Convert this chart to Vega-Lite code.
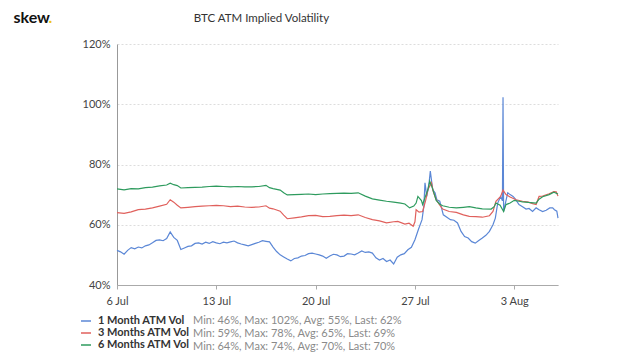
{
"$schema": "https://vega.github.io/schema/vega-lite/v6.json",
"width": 441,
"height": 241,
"autosize": "none",
"padding": {"left": 117, "top": 44, "right": 82, "bottom": 72},
"background": "white",
"config": {"font": "Lato", "view": {"stroke": null}},
"title": {"text": "BTC ATM Implied Volatility", "font": "Lato", "fontSize": 11.5, "fontWeight": "normal", "color": "#333333", "anchor": "middle", "frame": "group", "dx": -76, "offset": -15},
"data": {"values": [
{"d":"2020-07-06T00:00","s":"1M","v":51.5},{"d":"2020-07-06T06:00","s":"1M","v":51.0},{"d":"2020-07-06T12:00","s":"1M","v":50.2},{"d":"2020-07-06T18:00","s":"1M","v":51.5},
{"d":"2020-07-07T00:00","s":"1M","v":52.4},{"d":"2020-07-07T06:00","s":"1M","v":52.0},{"d":"2020-07-07T12:00","s":"1M","v":52.6},{"d":"2020-07-07T18:00","s":"1M","v":52.3},
{"d":"2020-07-08T00:00","s":"1M","v":53.0},{"d":"2020-07-08T06:00","s":"1M","v":53.3},{"d":"2020-07-08T12:00","s":"1M","v":54.0},{"d":"2020-07-08T18:00","s":"1M","v":54.8},
{"d":"2020-07-09T00:00","s":"1M","v":55.0},{"d":"2020-07-09T06:00","s":"1M","v":54.7},{"d":"2020-07-09T12:00","s":"1M","v":55.4},{"d":"2020-07-09T18:00","s":"1M","v":57.6},
{"d":"2020-07-10T00:00","s":"1M","v":55.8},{"d":"2020-07-10T06:00","s":"1M","v":54.8},{"d":"2020-07-10T12:00","s":"1M","v":51.8},{"d":"2020-07-10T18:00","s":"1M","v":52.3},
{"d":"2020-07-11T00:00","s":"1M","v":52.8},{"d":"2020-07-11T06:00","s":"1M","v":53.0},{"d":"2020-07-11T12:00","s":"1M","v":53.8},{"d":"2020-07-11T18:00","s":"1M","v":54.0},
{"d":"2020-07-12T00:00","s":"1M","v":53.6},{"d":"2020-07-12T06:00","s":"1M","v":54.2},{"d":"2020-07-12T12:00","s":"1M","v":53.8},{"d":"2020-07-12T18:00","s":"1M","v":54.4},
{"d":"2020-07-13T00:00","s":"1M","v":54.0},{"d":"2020-07-13T06:00","s":"1M","v":53.7},{"d":"2020-07-13T12:00","s":"1M","v":54.2},{"d":"2020-07-13T18:00","s":"1M","v":54.0},
{"d":"2020-07-14T00:00","s":"1M","v":54.3},{"d":"2020-07-14T06:00","s":"1M","v":54.6},{"d":"2020-07-14T12:00","s":"1M","v":54.0},{"d":"2020-07-14T18:00","s":"1M","v":53.6},
{"d":"2020-07-15T00:00","s":"1M","v":53.3},{"d":"2020-07-15T06:00","s":"1M","v":53.0},{"d":"2020-07-15T12:00","s":"1M","v":53.4},{"d":"2020-07-15T18:00","s":"1M","v":53.8},
{"d":"2020-07-16T00:00","s":"1M","v":54.2},{"d":"2020-07-16T06:00","s":"1M","v":54.7},{"d":"2020-07-16T12:00","s":"1M","v":54.5},{"d":"2020-07-16T18:00","s":"1M","v":54.3},
{"d":"2020-07-17T00:00","s":"1M","v":52.6},{"d":"2020-07-17T06:00","s":"1M","v":51.1},{"d":"2020-07-17T12:00","s":"1M","v":50.0},{"d":"2020-07-17T18:00","s":"1M","v":49.3},
{"d":"2020-07-18T00:00","s":"1M","v":48.6},{"d":"2020-07-18T06:00","s":"1M","v":48.0},{"d":"2020-07-18T12:00","s":"1M","v":48.8},{"d":"2020-07-18T18:00","s":"1M","v":49.0},
{"d":"2020-07-19T00:00","s":"1M","v":49.6},{"d":"2020-07-19T06:00","s":"1M","v":49.8},{"d":"2020-07-19T12:00","s":"1M","v":50.4},{"d":"2020-07-19T18:00","s":"1M","v":50.6},
{"d":"2020-07-20T00:00","s":"1M","v":50.3},{"d":"2020-07-20T06:00","s":"1M","v":50.0},{"d":"2020-07-20T12:00","s":"1M","v":49.6},{"d":"2020-07-20T18:00","s":"1M","v":48.9},
{"d":"2020-07-21T00:00","s":"1M","v":49.6},{"d":"2020-07-21T06:00","s":"1M","v":50.2},{"d":"2020-07-21T12:00","s":"1M","v":50.0},{"d":"2020-07-21T18:00","s":"1M","v":49.4},
{"d":"2020-07-22T00:00","s":"1M","v":49.6},{"d":"2020-07-22T06:00","s":"1M","v":50.4},{"d":"2020-07-22T12:00","s":"1M","v":50.3},{"d":"2020-07-22T18:00","s":"1M","v":50.0},
{"d":"2020-07-23T00:00","s":"1M","v":50.6},{"d":"2020-07-23T06:00","s":"1M","v":51.3},{"d":"2020-07-23T12:00","s":"1M","v":50.8},{"d":"2020-07-23T18:00","s":"1M","v":51.0},
{"d":"2020-07-24T00:00","s":"1M","v":50.6},{"d":"2020-07-24T06:00","s":"1M","v":49.0},{"d":"2020-07-24T12:00","s":"1M","v":48.3},{"d":"2020-07-24T18:00","s":"1M","v":48.8},
{"d":"2020-07-25T00:00","s":"1M","v":47.8},{"d":"2020-07-25T06:00","s":"1M","v":48.3},{"d":"2020-07-25T12:00","s":"1M","v":47.0},{"d":"2020-07-25T18:00","s":"1M","v":49.2},
{"d":"2020-07-26T00:00","s":"1M","v":50.0},{"d":"2020-07-26T06:00","s":"1M","v":50.4},{"d":"2020-07-26T12:00","s":"1M","v":51.7},{"d":"2020-07-26T18:00","s":"1M","v":52.5},
{"d":"2020-07-27T00:00","s":"1M","v":55.0},{"d":"2020-07-27T06:00","s":"1M","v":58.5},{"d":"2020-07-27T12:00","s":"1M","v":61.7},{"d":"2020-07-27T15:00","s":"1M","v":66.0},
{"d":"2020-07-27T17:00","s":"1M","v":73.9},{"d":"2020-07-27T20:00","s":"1M","v":69.4},{"d":"2020-07-28T00:00","s":"1M","v":74.0},{"d":"2020-07-28T02:00","s":"1M","v":77.8},
{"d":"2020-07-28T06:00","s":"1M","v":71.7},{"d":"2020-07-28T10:00","s":"1M","v":70.6},{"d":"2020-07-28T13:00","s":"1M","v":68.3},{"d":"2020-07-28T18:00","s":"1M","v":67.8},
{"d":"2020-07-29T00:00","s":"1M","v":63.3},{"d":"2020-07-29T06:00","s":"1M","v":62.5},{"d":"2020-07-29T12:00","s":"1M","v":61.7},{"d":"2020-07-29T18:00","s":"1M","v":61.5},
{"d":"2020-07-30T00:00","s":"1M","v":60.6},{"d":"2020-07-30T06:00","s":"1M","v":57.8},{"d":"2020-07-30T12:00","s":"1M","v":56.1},{"d":"2020-07-30T18:00","s":"1M","v":55.6},
{"d":"2020-07-31T00:00","s":"1M","v":54.4},{"d":"2020-07-31T06:00","s":"1M","v":53.9},{"d":"2020-07-31T12:00","s":"1M","v":54.8},{"d":"2020-07-31T18:00","s":"1M","v":55.6},
{"d":"2020-08-01T00:00","s":"1M","v":56.5},{"d":"2020-08-01T06:00","s":"1M","v":57.8},{"d":"2020-08-01T12:00","s":"1M","v":60.0},{"d":"2020-08-01T16:00","s":"1M","v":62.2},
{"d":"2020-08-01T20:00","s":"1M","v":67.2},{"d":"2020-08-02T01:00","s":"1M","v":69.4},{"d":"2020-08-02T04:00","s":"1M","v":68.0},{"d":"2020-08-02T05:00","s":"1M","v":102.3},
{"d":"2020-08-02T06:00","s":"1M","v":64.4},{"d":"2020-08-02T10:00","s":"1M","v":68.0},{"d":"2020-08-02T13:00","s":"1M","v":70.6},{"d":"2020-08-02T17:00","s":"1M","v":70.0},
{"d":"2020-08-02T22:00","s":"1M","v":69.4},{"d":"2020-08-03T02:00","s":"1M","v":68.5},{"d":"2020-08-03T08:00","s":"1M","v":66.7},{"d":"2020-08-03T14:00","s":"1M","v":66.0},
{"d":"2020-08-03T20:00","s":"1M","v":65.2},{"d":"2020-08-04T01:00","s":"1M","v":65.4},{"d":"2020-08-04T07:00","s":"1M","v":64.4},{"d":"2020-08-04T13:00","s":"1M","v":65.6},
{"d":"2020-08-04T18:00","s":"1M","v":65.0},{"d":"2020-08-05T00:00","s":"1M","v":64.4},{"d":"2020-08-05T06:00","s":"1M","v":64.8},{"d":"2020-08-05T12:00","s":"1M","v":65.6},
{"d":"2020-08-05T17:00","s":"1M","v":65.6},{"d":"2020-08-05T20:00","s":"1M","v":65.0},{"d":"2020-08-06T00:00","s":"1M","v":64.5},{"d":"2020-08-06T02:00","s":"1M","v":62.2},
{"d":"2020-07-06T00:00","s":"3M","v":64.0},{"d":"2020-07-06T12:00","s":"3M","v":63.8},{"d":"2020-07-07T00:00","s":"3M","v":64.3},{"d":"2020-07-07T12:00","s":"3M","v":65.0},
{"d":"2020-07-08T00:00","s":"3M","v":65.2},{"d":"2020-07-08T12:00","s":"3M","v":65.6},{"d":"2020-07-09T00:00","s":"3M","v":66.2},{"d":"2020-07-09T12:00","s":"3M","v":66.8},
{"d":"2020-07-09T18:00","s":"3M","v":68.3},{"d":"2020-07-10T00:00","s":"3M","v":67.5},{"d":"2020-07-10T06:00","s":"3M","v":66.5},{"d":"2020-07-10T12:00","s":"3M","v":65.6},
{"d":"2020-07-11T00:00","s":"3M","v":65.8},{"d":"2020-07-11T12:00","s":"3M","v":66.0},{"d":"2020-07-12T00:00","s":"3M","v":66.2},{"d":"2020-07-12T12:00","s":"3M","v":66.3},
{"d":"2020-07-13T00:00","s":"3M","v":66.4},{"d":"2020-07-13T12:00","s":"3M","v":66.3},{"d":"2020-07-14T00:00","s":"3M","v":66.0},{"d":"2020-07-14T12:00","s":"3M","v":66.2},
{"d":"2020-07-15T00:00","s":"3M","v":65.9},{"d":"2020-07-15T12:00","s":"3M","v":65.8},{"d":"2020-07-16T00:00","s":"3M","v":65.9},{"d":"2020-07-16T12:00","s":"3M","v":66.3},
{"d":"2020-07-16T18:00","s":"3M","v":65.5},{"d":"2020-07-17T00:00","s":"3M","v":65.3},{"d":"2020-07-17T12:00","s":"3M","v":64.5},{"d":"2020-07-17T18:00","s":"3M","v":63.2},
{"d":"2020-07-18T00:00","s":"3M","v":62.0},{"d":"2020-07-18T12:00","s":"3M","v":62.3},{"d":"2020-07-19T00:00","s":"3M","v":62.6},{"d":"2020-07-19T12:00","s":"3M","v":63.0},
{"d":"2020-07-20T00:00","s":"3M","v":63.1},{"d":"2020-07-20T12:00","s":"3M","v":62.7},{"d":"2020-07-21T00:00","s":"3M","v":62.8},{"d":"2020-07-21T12:00","s":"3M","v":63.0},
{"d":"2020-07-22T00:00","s":"3M","v":63.2},{"d":"2020-07-22T12:00","s":"3M","v":63.0},{"d":"2020-07-23T00:00","s":"3M","v":63.3},{"d":"2020-07-23T12:00","s":"3M","v":62.4},
{"d":"2020-07-24T00:00","s":"3M","v":61.7},{"d":"2020-07-24T12:00","s":"3M","v":61.3},{"d":"2020-07-25T00:00","s":"3M","v":60.6},{"d":"2020-07-25T12:00","s":"3M","v":61.0},
{"d":"2020-07-25T19:00","s":"3M","v":61.1},{"d":"2020-07-26T07:00","s":"3M","v":60.2},{"d":"2020-07-26T14:00","s":"3M","v":60.5},{"d":"2020-07-26T21:00","s":"3M","v":59.5},
{"d":"2020-07-27T00:00","s":"3M","v":61.0},{"d":"2020-07-27T02:00","s":"3M","v":65.0},{"d":"2020-07-27T07:00","s":"3M","v":64.2},{"d":"2020-07-27T13:00","s":"3M","v":64.4},
{"d":"2020-07-27T18:00","s":"3M","v":68.0},{"d":"2020-07-27T22:00","s":"3M","v":71.7},{"d":"2020-07-28T04:00","s":"3M","v":73.9},{"d":"2020-07-28T07:00","s":"3M","v":71.0},
{"d":"2020-07-28T12:00","s":"3M","v":68.3},{"d":"2020-07-28T18:00","s":"3M","v":66.5},{"d":"2020-07-28T23:00","s":"3M","v":65.2},{"d":"2020-07-29T10:00","s":"3M","v":64.4},
{"d":"2020-07-29T22:00","s":"3M","v":64.1},{"d":"2020-07-30T10:00","s":"3M","v":63.3},{"d":"2020-07-30T20:00","s":"3M","v":62.8},{"d":"2020-07-31T07:00","s":"3M","v":62.7},
{"d":"2020-07-31T18:00","s":"3M","v":62.5},{"d":"2020-08-01T06:00","s":"3M","v":63.0},{"d":"2020-08-01T12:00","s":"3M","v":64.4},{"d":"2020-08-01T17:00","s":"3M","v":67.8},
{"d":"2020-08-02T01:00","s":"3M","v":69.4},{"d":"2020-08-02T05:00","s":"3M","v":71.5},{"d":"2020-08-02T10:00","s":"3M","v":70.0},{"d":"2020-08-02T17:00","s":"3M","v":69.2},
{"d":"2020-08-03T03:00","s":"3M","v":68.3},{"d":"2020-08-03T14:00","s":"3M","v":67.8},{"d":"2020-08-04T00:00","s":"3M","v":67.5},{"d":"2020-08-04T07:00","s":"3M","v":67.0},
{"d":"2020-08-04T13:00","s":"3M","v":66.7},{"d":"2020-08-04T18:00","s":"3M","v":69.4},{"d":"2020-08-05T00:00","s":"3M","v":69.5},{"d":"2020-08-05T11:00","s":"3M","v":70.3},
{"d":"2020-08-05T19:00","s":"3M","v":71.0},{"d":"2020-08-05T23:00","s":"3M","v":70.9},{"d":"2020-08-06T02:00","s":"3M","v":69.5},
{"d":"2020-07-06T00:00","s":"6M","v":71.9},{"d":"2020-07-06T12:00","s":"6M","v":71.6},{"d":"2020-07-07T00:00","s":"6M","v":72.0},{"d":"2020-07-07T12:00","s":"6M","v":71.9},
{"d":"2020-07-08T00:00","s":"6M","v":72.3},{"d":"2020-07-08T12:00","s":"6M","v":72.5},{"d":"2020-07-09T00:00","s":"6M","v":72.9},{"d":"2020-07-09T12:00","s":"6M","v":73.2},
{"d":"2020-07-09T18:00","s":"6M","v":73.8},{"d":"2020-07-10T00:00","s":"6M","v":73.3},{"d":"2020-07-10T06:00","s":"6M","v":73.0},{"d":"2020-07-10T12:00","s":"6M","v":72.2},
{"d":"2020-07-11T00:00","s":"6M","v":72.3},{"d":"2020-07-11T12:00","s":"6M","v":72.4},{"d":"2020-07-12T00:00","s":"6M","v":72.5},{"d":"2020-07-12T12:00","s":"6M","v":72.7},
{"d":"2020-07-13T00:00","s":"6M","v":72.8},{"d":"2020-07-13T12:00","s":"6M","v":72.7},{"d":"2020-07-14T00:00","s":"6M","v":72.6},{"d":"2020-07-14T12:00","s":"6M","v":72.7},
{"d":"2020-07-15T00:00","s":"6M","v":72.6},{"d":"2020-07-15T12:00","s":"6M","v":72.6},{"d":"2020-07-16T00:00","s":"6M","v":72.7},{"d":"2020-07-16T12:00","s":"6M","v":73.1},
{"d":"2020-07-16T18:00","s":"6M","v":72.3},{"d":"2020-07-17T00:00","s":"6M","v":72.0},{"d":"2020-07-17T12:00","s":"6M","v":71.5},{"d":"2020-07-17T18:00","s":"6M","v":70.6},
{"d":"2020-07-18T00:00","s":"6M","v":69.9},{"d":"2020-07-18T12:00","s":"6M","v":70.0},{"d":"2020-07-19T00:00","s":"6M","v":70.1},{"d":"2020-07-19T12:00","s":"6M","v":70.2},
{"d":"2020-07-20T00:00","s":"6M","v":70.0},{"d":"2020-07-20T12:00","s":"6M","v":70.2},{"d":"2020-07-21T00:00","s":"6M","v":70.3},{"d":"2020-07-21T12:00","s":"6M","v":70.4},
{"d":"2020-07-22T00:00","s":"6M","v":70.5},{"d":"2020-07-22T12:00","s":"6M","v":70.4},{"d":"2020-07-23T00:00","s":"6M","v":70.6},{"d":"2020-07-23T12:00","s":"6M","v":69.5},
{"d":"2020-07-24T00:00","s":"6M","v":68.6},{"d":"2020-07-24T12:00","s":"6M","v":68.2},{"d":"2020-07-25T00:00","s":"6M","v":67.8},{"d":"2020-07-25T12:00","s":"6M","v":67.5},
{"d":"2020-07-26T00:00","s":"6M","v":67.2},{"d":"2020-07-26T07:00","s":"6M","v":66.9},{"d":"2020-07-26T15:00","s":"6M","v":65.6},{"d":"2020-07-26T22:00","s":"6M","v":66.2},
{"d":"2020-07-27T02:00","s":"6M","v":67.2},{"d":"2020-07-27T05:00","s":"6M","v":69.4},{"d":"2020-07-27T11:00","s":"6M","v":68.0},{"d":"2020-07-27T13:00","s":"6M","v":66.7},
{"d":"2020-07-27T17:00","s":"6M","v":69.0},{"d":"2020-07-27T22:00","s":"6M","v":71.7},{"d":"2020-07-28T01:00","s":"6M","v":74.5},{"d":"2020-07-28T05:00","s":"6M","v":72.5},
{"d":"2020-07-28T12:00","s":"6M","v":68.1},{"d":"2020-07-28T18:00","s":"6M","v":66.8},{"d":"2020-07-28T23:00","s":"6M","v":66.3},{"d":"2020-07-29T10:00","s":"6M","v":65.8},
{"d":"2020-07-29T22:00","s":"6M","v":65.6},{"d":"2020-07-30T10:00","s":"6M","v":65.8},{"d":"2020-07-30T20:00","s":"6M","v":66.0},{"d":"2020-07-31T07:00","s":"6M","v":65.6},
{"d":"2020-07-31T18:00","s":"6M","v":65.3},{"d":"2020-08-01T09:00","s":"6M","v":65.2},{"d":"2020-08-01T14:00","s":"6M","v":66.0},{"d":"2020-08-01T17:00","s":"6M","v":67.2},
{"d":"2020-08-02T00:00","s":"6M","v":66.5},{"d":"2020-08-02T06:00","s":"6M","v":64.4},{"d":"2020-08-02T10:00","s":"6M","v":66.7},{"d":"2020-08-02T17:00","s":"6M","v":67.2},
{"d":"2020-08-03T00:00","s":"6M","v":68.1},{"d":"2020-08-03T08:00","s":"6M","v":67.8},{"d":"2020-08-03T14:00","s":"6M","v":67.6},{"d":"2020-08-04T00:00","s":"6M","v":67.4},
{"d":"2020-08-04T13:00","s":"6M","v":67.2},{"d":"2020-08-04T18:00","s":"6M","v":68.5},{"d":"2020-08-05T00:00","s":"6M","v":69.3},{"d":"2020-08-05T11:00","s":"6M","v":70.0},
{"d":"2020-08-05T19:00","s":"6M","v":70.8},{"d":"2020-08-06T02:00","s":"6M","v":70.2}
]},
"mark": {"type": "line", "strokeWidth": 1.2},
"encoding": {
  "x": {"field": "d", "type": "temporal", "scale": {"nice": false},
        "axis": {"values": [{"year": 2020, "month": 7, "date": 6}, {"year": 2020, "month": 7, "date": 13}, {"year": 2020, "month": 7, "date": 20}, {"year": 2020, "month": 7, "date": 27}, {"year": 2020, "month": 8, "date": 3}],
                 "format": "%-d %b", "labelFont": "Lato", "labelFontSize": 11, "labelColor": "#444444", "labelPadding": 6, "labelFlush": false,
                 "domainColor": "#aaaaaa", "tickColor": "#aaaaaa", "tickSize": 4, "grid": false,
                 "title": ".", "titleFont": "Lato", "titleFontSize": 16, "titleFontWeight": "bold", "titleColor": "#f0c419",
                 "titleAngle": 0, "titleAlign": "left", "titleBaseline": "alphabetic", "titleX": -69, "titleY": -263}},
  "y": {"field": "v", "type": "quantitative", "scale": {"domain": [40, 120], "nice": false, "zero": false},
        "axis": {"values": [40, 60, 80, 100, 120], "labelExpr": "datum.value + '%'", "labelFont": "Lato", "labelFontSize": 11, "labelColor": "#444444", "labelPadding": 7,
                 "ticks": false, "domainColor": "#999999", "grid": true, "gridColor": "#dddddd", "gridDash": [2, 2],
                 "title": "skew", "titleFont": "Lato", "titleFontSize": 16, "titleFontWeight": "bold", "titleColor": "#111111",
                 "titleAngle": 0, "titleAlign": "left", "titleBaseline": "alphabetic", "titleX": -104, "titleY": -22}},
  "color": {"field": "s", "type": "nominal", "scale": {"domain": ["1M", "3M", "6M"], "range": ["#5b87d6", "#e0605c", "#2e9b5e"]},
            "legend": {"orient": "none", "legendX": -37, "legendY": 271, "direction": "vertical", "title": null,
                       "symbolType": "stroke", "symbolSize": 100, "symbolStrokeWidth": 1.5, "labelFont": "Lato", "labelFontSize": 11, "labelFontWeight": "bold",
                       "labelColor": "#333333", "labelOffset": 6, "labelLimit": 400, "rowPadding": 1,
                       "labelExpr": "datum.label == '1M' ? '1 Month ATM Vol' : datum.label == '3M' ? '3 Months ATM Vol' : '6 Months ATM Vol'"}},
  "opacity": {"field": "s", "type": "nominal", "scale": {"range": [1, 1]},
              "legend": {"orient": "none", "legendX": 65, "legendY": 271, "direction": "vertical", "title": null,
                         "symbolSize": 0, "symbolStrokeColor": "transparent", "symbolFillColor": "transparent", "symbolStrokeWidth": 0,
                         "labelFont": "Lato", "labelFontSize": 11, "labelColor": "#8a8a8a", "labelOffset": 0, "labelLimit": 400, "rowPadding": 1,
                         "labelExpr": "datum.label == '1M' ? 'Min: 46%, Max: 102%, Avg: 55%, Last: 62%' : datum.label == '3M' ? 'Min: 59%, Max: 78%, Avg: 65%, Last: 69%' : 'Min: 64%, Max: 74%, Avg: 70%, Last: 70%'"}}
}
}
